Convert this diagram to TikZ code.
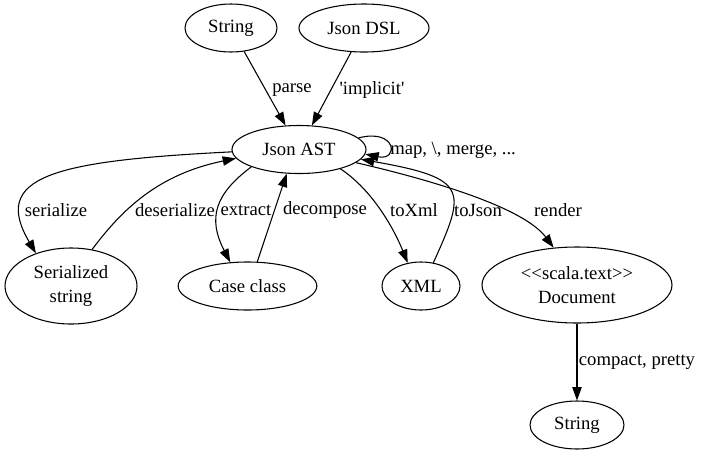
\documentclass[tikz,border=0pt]{standalone}
\usepackage{fontspec}
\setmainfont{Liberation Serif}
\usetikzlibrary{arrows.meta,shapes.geometric}
\tikzset{
  datatype/.style={draw, ellipse, line width=0.8pt, inner sep=0pt, minimum height=36pt},
  conv/.style={draw, line width=0.8pt, -{Triangle[length=10pt,width=7pt]}},
  lbl/.style={inner sep=0pt}
}

\begin{document}
\begin{tikzpicture}[x=0.75pt, y=-0.75pt, font=\fontsize{14}{17.5}\selectfont]
      \useasboundingbox (0,0) rectangle (701,451);
      \node [datatype, minimum width=69pt] (strin) at (231,28) {String};
      \node [datatype, minimum width=97.5pt] (dsl) at (364,28) {Json DSL};
      \node [datatype, minimum width=100.5pt] (ast) at (299,149.5) {Json AST};
      \node [datatype, minimum width=99pt, minimum height=57pt, align=center] (ser) at (71,286) {Serialized\\string};
      \node [datatype, minimum width=104pt] (cls) at (247.5,286) {Case class};
      \node [datatype, minimum width=58.5pt] (xml) at (421,286) {XML};
      \node [datatype, minimum width=142.5pt, minimum height=57pt, align=center] (doc) at (577,285) {\textless\kern0pt\textless scala.text\textgreater\kern0pt\textgreater\\Document};
      \node [datatype, minimum width=70.5pt] (strout) at (577,425) {String};
      \draw [conv] (strin) -- (ast);
      \node [lbl] (lparse) at (292,90) {parse};
      \draw [conv] (dsl) -- (ast);
      \node [lbl] (limpl) at (372,90) {\textquotesingle implicit\textquotesingle};
      \draw [conv] (ast.11) .. controls +(38,-10) and +(34,7) .. (ast.-4);
      \node [lbl, anchor=west] (lmap) at (390,150) {map, \textbackslash, merge, ...};
      \draw [conv] (ast.182) .. controls +(-180,9) and +(-45,-76.5) .. (ser.137);
      \node [lbl] (lser) at (56,210) {serialize};
      \draw [conv] (ser.60) .. controls +(30,-40) and +(-78,16) .. (ast.188);
      \node [lbl] (ldeser) at (175,210) {deserialize};
      \draw [conv] (ast.200) .. controls +(-36,27) and +(-23,-44.5) .. (cls.126);
      \node [lbl] (lextr) at (246,210) {extract};
      \draw [conv] (cls.68) -- (ast.243);
      \node [lbl] (ldecomp) at (325,210) {decompose};
      \draw [conv] (ast.-25) .. controls +(33,22) and +(-13,-32.5) .. (xml.120);
      \node [lbl] (ltoxml) at (414,210) {toXml};
      \draw [conv] (xml.62) .. controls +(33,-73) and +(108,19) .. (ast.-9);
      \node [lbl] (ltojson) at (478,210) {toJson};
      \draw [conv] (ast.-13) .. controls +(78,18) and +(-30,-40) .. (doc.122);
      \node [lbl] (lrender) at (558,210) {render};
      \draw [conv] (doc) -- (strout);
      \node [lbl] (lpretty) at (637,362) {compact, pretty};
   \end{tikzpicture}
\end{document}
